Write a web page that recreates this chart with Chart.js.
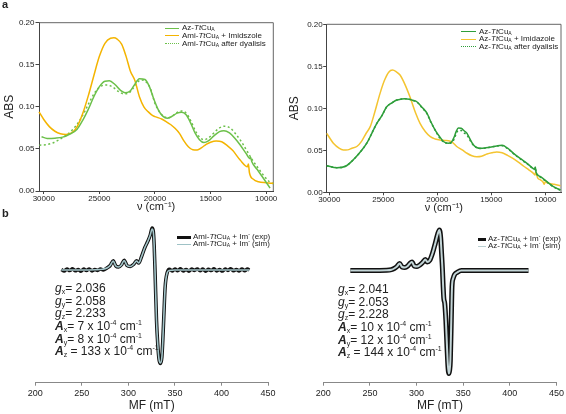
<!DOCTYPE html>
<html><head><meta charset="utf-8">
<script src="https://cdn.jsdelivr.net/npm/chart.js@4.4.1/dist/chart.umd.min.js"></script>
<style>
html,body{margin:0;padding:0;background:#fff;}
body{width:566px;height:414px;position:relative;overflow:hidden;font-family:"Liberation Sans",Arial,Helvetica,sans-serif;color:#222;}
canvas{position:absolute;}
.t{position:absolute;white-space:nowrap;}
.leg{font-size:8px;line-height:10px;height:10px;}
.leg sub{font-size:5px;vertical-align:-1px;line-height:0;}
.leg sup{font-size:5px;vertical-align:3px;line-height:0;}
.ln{position:absolute;height:0;}
.pl{font-weight:bold;font-size:11px;}
.gv{font-size:12px;line-height:12.7px;}
.gv div{height:12.7px;}
.gv sub{font-size:7px;vertical-align:-2px;line-height:0;}
.gv sup{font-size:7px;vertical-align:5px;line-height:0;}
</style></head><body>
<canvas id="c1" width="283" height="216" style="left:0;top:0;width:283px;height:216px"></canvas>
<canvas id="c2" width="283" height="216" style="left:283px;top:0;width:283px;height:216px"></canvas>
<canvas id="c3" width="283" height="198" style="left:0;top:216px;width:283px;height:198px"></canvas>
<canvas id="c4" width="283" height="198" style="left:283px;top:216px;width:283px;height:198px"></canvas>

<div class="t pl" style="left:2px;top:-2px">a</div>
<div class="t pl" style="left:2px;top:207px">b</div>

<!-- legend top-left -->
<div class="ln" style="left:165px;top:27.5px;width:14px;border-top:1.5px solid #6cc04a"></div>
<div class="ln" style="left:165px;top:35.2px;width:14px;border-top:1.5px solid #f4b400"></div>
<div class="ln" style="left:165px;top:43px;width:14px;border-top:1.5px dotted #6cc04a"></div>
<div class="t leg" style="left:182px;top:23px">Az-<i>Tt</i>Cu<sub>A</sub></div>
<div class="t leg" style="left:182px;top:30.7px">Ami-<i>Tt</i>Cu<sub>A</sub> + Imidszole</div>
<div class="t leg" style="left:182px;top:38.7px">Ami-<i>Tt</i>Cu<sub>A</sub> after dyalisis</div>

<!-- legend top-right -->
<div class="ln" style="left:461px;top:31px;width:15px;border-top:1.5px solid #2e9e3a"></div>
<div class="ln" style="left:461px;top:38.5px;width:15px;border-top:1.5px solid #f4c430"></div>
<div class="ln" style="left:461px;top:46px;width:15px;border-top:1.5px dotted #2e9e3a"></div>
<div class="t leg" style="left:479px;top:26.5px">Az-<i>Tt</i>Cu<sub>A</sub></div>
<div class="t leg" style="left:479px;top:34px">Az-<i>Tt</i>Cu<sub>A</sub> + Imidazole</div>
<div class="t leg" style="left:479px;top:41.7px">Az-<i>Tt</i>Cu<sub>A</sub> after dyalisis</div>

<!-- legend bottom-left -->
<div class="ln" style="left:177px;top:235.5px;width:14px;border-top:3px solid #111"></div>
<div class="ln" style="left:177px;top:243.5px;width:14px;border-top:1px solid #9fc2c6"></div>
<div class="t leg" style="left:193px;top:232px">Ami-<i>Tt</i>Cu<sub>A</sub> + Im<sup>-</sup> (exp)</div>
<div class="t leg" style="left:193px;top:239px">Ami-<i>Tt</i>Cu<sub>A</sub> + Im<sup>-</sup> (sim)</div>

<!-- legend bottom-right -->
<div class="ln" style="left:478px;top:237.5px;width:8px;border-top:3px solid #111"></div>
<div class="ln" style="left:478px;top:245.5px;width:8px;border-top:1px solid #b9cfd1"></div>
<div class="t leg" style="left:488px;top:234px">Az-<i>Tt</i>Cu<sub>A</sub> + Im<sup>-</sup> (exp)</div>
<div class="t leg" style="left:488px;top:240.7px">Az-<i>Tt</i>Cu<sub>A</sub> + Im<sup>-</sup> (sim)</div>

<!-- parameters -->
<div class="t gv" style="left:55px;top:282px">
<div><i>g</i><sub>x</sub>= 2.036</div>
<div><i>g</i><sub>y</sub>= 2.058</div>
<div><i>g</i><sub>z</sub>= 2.233</div>
<div><b><i>A</i></b><sub>x</sub>= 7 x 10<sup>-4</sup> cm<sup>-1</sup></div>
<div><b><i>A</i></b><sub>y</sub>= 8 x 10<sup>-4</sup> cm<sup>-1</sup></div>
<div><b><i>A</i></b><sub>z</sub> = 133 x 10<sup>-4</sup> cm<sup>-1</sup></div>
</div>
<div class="t gv" style="left:338px;top:283px">
<div><i>g</i><sub>x</sub>= 2.041</div>
<div><i>g</i><sub>y</sub>= 2.053</div>
<div><i>g</i><sub>z</sub>= 2.228</div>
<div><b><i>A</i></b><sub>x</sub>= 10 x 10<sup>-4</sup> cm<sup>-1</sup></div>
<div><b><i>A</i></b><sub>y</sub>= 12 x 10<sup>-4</sup> cm<sup>-1</sup></div>
<div><b><i>A</i></b><sub>z</sub> = 144 x 10<sup>-4</sup> cm<sup>-1</sup></div>
</div>

<script>
// ---------- Panel a, left : Ami-TtCuA ----------
const tlAzNu  = [30200,29700,29000,28300,27600,27000,26500,26000,25500,25000,24500,24100,23600,23100,22700,22300,21900,21400,20900,20500,20100,19700,19300,18900,18500,18000,17600,17200,16800,16400,16000,15600,15200,14700,14200,13800,13300,12800,12300,11800,11450,11400,11300,10800,10300,9650];
const tlAzAbs = [0.0645,0.0625,0.0628,0.064,0.068,0.0735,0.084,0.097,0.112,0.124,0.1305,0.131,0.1265,0.1195,0.1168,0.118,0.125,0.1335,0.1325,0.124,0.109,0.0965,0.089,0.0865,0.0885,0.0925,0.0935,0.0905,0.081,0.069,0.061,0.0575,0.0595,0.0655,0.0705,0.0717,0.069,0.0625,0.054,0.0445,0.0385,0.040,0.035,0.0255,0.016,0.0035];

const tlImNu  = [30430,30000,29500,29000,28500,28000,27500,27000,26500,26000,25500,25000,24500,24000,23700,23400,23000,22600,22200,21800,21400,21000,20600,20200,19800,19400,19000,18600,18200,17800,17400,17000,16600,16200,15800,15400,15000,14500,14000,13500,13000,12340,11685,11600,11505,11145,10695,10000,9360];
const tlImAbs = [0.094,0.085,0.0765,0.071,0.068,0.0672,0.069,0.0765,0.092,0.113,0.137,0.160,0.1755,0.1815,0.182,0.1805,0.1745,0.160,0.142,0.131,0.112,0.100,0.094,0.0895,0.0875,0.0855,0.0825,0.079,0.0745,0.0685,0.0595,0.0525,0.049,0.0487,0.0515,0.0555,0.058,0.0594,0.0585,0.054,0.048,0.0368,0.0289,0.032,0.0217,0.0139,0.011,0.0098,0.0091];

const tlDyNu  = [30400,29800,29200,28600,28000,27400,26800,26300,25800,25300,24800,24300,23800,23300,22800,22400,22000,21600,21200,20800,20400,20000,19600,19200,18800,18400,18000,17600,17200,16800,16400,16000,15600,15200,14700,14200,13700,13200,12700,12200,11700,11200,10700,10200,9700,9350];
const tlDyAbs = [0.0545,0.055,0.057,0.061,0.066,0.073,0.083,0.095,0.108,0.119,0.125,0.126,0.1235,0.1185,0.1155,0.116,0.1215,0.129,0.132,0.1295,0.1215,0.104,0.094,0.0885,0.087,0.0895,0.0935,0.095,0.0925,0.084,0.0725,0.064,0.061,0.063,0.069,0.075,0.077,0.0745,0.067,0.058,0.047,0.036,0.027,0.018,0.011,0.0085];

// ---------- Panel a, right : Az-TtCuA ----------
const trAzNu  = [30240,29300,28500,27800,27000,26500,26000,25600,25100,24700,24200,23750,23300,23000,22600,22200,21900,21400,20950,20600,20200,19800,19400,19000,18700,18450,18250,18050,17800,17500,17250,16900,16650,16300,16000,15500,15000,14500,14000,13500,12950,12300,11700,11200,11000,10930,10850,10450,9850,9250,8600];
const trAzAbs = [0.0317,0.0293,0.031,0.0384,0.050,0.059,0.072,0.082,0.092,0.1015,0.1065,0.1098,0.111,0.1114,0.1108,0.1092,0.1078,0.101,0.094,0.084,0.0741,0.0665,0.0602,0.0583,0.0595,0.0655,0.0725,0.0765,0.0762,0.073,0.0702,0.0615,0.0563,0.053,0.0524,0.053,0.054,0.0552,0.0559,0.0525,0.0464,0.040,0.0345,0.029,0.0275,0.030,0.0235,0.0186,0.0126,0.0067,0.0027];

const trImNu  = [30240,29900,29600,29100,28700,28300,27900,27450,27000,26600,26200,25800,25300,24900,24500,24150,23800,23450,23000,22500,22000,21600,21100,20650,20200,19750,19300,18950,18600,18200,17700,17250,16800,16350,15900,15400,14950,14500,14000,13500,13000,12500,12000,11500,11100,10950,10900,10700,10450,10200,10100,10000,9800,9200,8600];
const trImAbs = [0.0702,0.0635,0.058,0.0525,0.0503,0.0505,0.0525,0.0545,0.061,0.070,0.0785,0.095,0.1178,0.133,0.143,0.1455,0.1435,0.1396,0.1285,0.1125,0.094,0.082,0.072,0.0662,0.0635,0.0622,0.0618,0.0614,0.0595,0.0545,0.0505,0.0465,0.0435,0.0424,0.043,0.0455,0.047,0.048,0.047,0.044,0.0405,0.036,0.031,0.0265,0.0225,0.0205,0.024,0.017,0.0148,0.012,0.0095,0.0125,0.0112,0.0095,0.0079];

const trDyNu  = [30240,29300,28500,27800,27000,26500,26000,25600,25100,24700,24200,23750,23300,23000,22600,22200,21900,21400,20950,20600,20200,19800,19400,19000,18700,18450,18250,18050,17800,17500,17250,16900,16650,16300,16000,15500,15000,14500,14000,13500,12950,12300,11700,11200,11000,10930,10850,10450,9850,9250,8600];
const trDyAbs = [0.0317,0.0293,0.031,0.0384,0.050,0.059,0.072,0.082,0.092,0.1015,0.1065,0.1098,0.111,0.1114,0.1108,0.1092,0.1075,0.1005,0.0935,0.0835,0.074,0.065,0.0598,0.0583,0.059,0.063,0.070,0.0735,0.0735,0.0705,0.068,0.0605,0.056,0.0528,0.052,0.0528,0.054,0.055,0.0555,0.052,0.046,0.0395,0.034,0.0288,0.0272,0.0295,0.0232,0.018,0.0122,0.0065,0.0025];

// ---------- Panel b : EPR (arbitrary units, baseline = 0) ----------
const eprLmfExp = [228,231,234,237,240,243,246,249,252,255,258,261,264,267,270,273,277,280.5,283.7,286.5,289.5,292.5,295.5,298.5,302,305.5,308.8,311.2,314,317.5,321,323.5,325.5,326.8,327.7,328.6,330.2,331.6,333,334.5,336,337,338,339.5,341.6,344,347,350,353,356,359,362,365,368,371,374,377,380,383,386,389,392,395,398,401,404,407,410,413,416,419,422,425,428,430];
const eprLexp   = [0.005,-0.01,0.01,-0.006,0.012,-0.008,0.004,-0.012,0.009,-0.005,0.011,-0.009,0.006,-0.004,0.01,0.0,0.02,0.045,0.092,0.04,0.03,0.05,0.097,0.045,0.035,0.055,0.092,0.07,0.13,0.22,0.29,0.35,0.42,0.385,0.25,0.0,-0.5,-0.75,-0.9,-0.935,-0.87,-0.7,-0.48,-0.17,-0.03,0.008,-0.01,0.01,-0.007,0.012,-0.01,0.006,-0.012,0.009,-0.004,0.011,-0.008,0.01,-0.012,0.007,-0.006,0.012,-0.009,0.005,-0.011,0.01,-0.005,0.013,-0.008,0.006,-0.01,0.009,-0.007,0.01,0.0];
const eprLmfSim = [228,250,265,272,277,280.5,283.7,286.5,289.5,292.5,295.5,298.5,302,305.5,308.8,311.2,314,317.5,321,323.5,325.5,326.8,327.7,328.6,330.2,331.6,333,334.5,336,337,338,339.5,341.6,344,350,380,430];
const eprLsim   = [0,0,0.003,0.008,0.02,0.045,0.09,0.04,0.03,0.05,0.095,0.045,0.035,0.055,0.09,0.07,0.13,0.22,0.29,0.35,0.41,0.38,0.25,0.0,-0.5,-0.75,-0.9,-0.93,-0.87,-0.7,-0.48,-0.17,-0.03,-0.005,0,0,0];

const eprRmf  = [229,250,268,273,276,279,281.8,284.5,287.5,290.5,292.8,295.1,297.5,300.5,303.5,306.5,309.4,311.5,314,317,320,322.5,324.5,325.8,326.8,327.7,328.5,329.2,330.2,331.4,332.7,333.6,334.5,335.4,336.2,337.2,338,339.2,340.8,343.4,348,380,420];
const eprRexp = [0,0,0.002,0.008,0.02,0.04,0.07,0.035,0.03,0.045,0.07,0.085,0.045,0.04,0.055,0.08,0.11,0.085,0.1,0.17,0.27,0.36,0.405,0.33,0.17,0.02,-0.16,-0.28,-0.33,-0.5,-0.78,-0.95,-1.03,-1.0,-0.9,-0.5,-0.16,-0.08,-0.04,-0.02,0,0,0];
const eprRsim = [0,0,0.002,0.008,0.02,0.04,0.07,0.035,0.03,0.045,0.07,0.085,0.045,0.04,0.055,0.08,0.11,0.085,0.1,0.17,0.27,0.36,0.405,0.33,0.17,0.02,-0.16,-0.28,-0.33,-0.5,-0.78,-0.95,-1.03,-1.0,-0.9,-0.5,-0.16,-0.08,-0.04,-0.02,0,0,0];

// ---------- tick labels ----------
const absTicks = [0, 0.05, 0.10, 0.15, 0.20];
const nuTicks  = [30000, 25000, 20000, 15000, 10000];
const mfTicks  = [200, 250, 300, 350, 400, 450];

const FONT = "'Liberation Sans', Arial, Helvetica, sans-serif";
Chart.defaults.font.family = FONT;
Chart.defaults.color = '#222';
Chart.defaults.animation = false;
Chart.defaults.plugins.legend.display = false;
Chart.defaults.plugins.tooltip.enabled = false;
Chart.defaults.elements.point.radius = 0;

const pts = (xs, ys) => xs.map((x, i) => ({x, y: ys[i]}));
const setTicks = arr => (s => { s.ticks = arr.map(v => ({value: v})); });

const framePlugin = {
  id: 'frame',
  beforeDatasetsDraw(chart, args, opts) {
    if (!opts || !opts.show) return;
    const {ctx, chartArea: a} = chart;
    ctx.save();
    ctx.strokeStyle = opts.color || '#555';
    ctx.lineWidth = 1;
    ctx.beginPath();
    ctx.moveTo(a.left, a.top); ctx.lineTo(a.right, a.top); ctx.lineTo(a.right, a.bottom);
    ctx.stroke();
    ctx.restore();
  }
};
Chart.register(framePlugin);

function line(data, color, width, dash) {
  return {data, borderColor: color, borderWidth: width, borderDash: dash || [], fill: false,
          cubicInterpolationMode: 'monotone', pointRadius: 0, clip: false};
}

function uvChart(id, datasets, o) {
  return new Chart(document.getElementById(id), {
    type: 'line',
    data: {datasets},
    options: {
      responsive: false, maintainAspectRatio: false, parsing: false,
      layout: {padding: {left: 0, top: o.top, right: o.right, bottom: 0}},
      plugins: {frame: {show: true, color: '#666'}},
      scales: {
        x: {
          type: 'linear', reverse: true, min: o.xmin, max: o.xmax,
          afterBuildTicks: setTicks(nuTicks),
          afterFit: s => { s.height = o.xh; },
          ticks: {font: {size: 8}, color: '#222', padding: 0, maxRotation: 0, autoSkip: false,
                  callback: v => String(v)},
          grid: {drawOnChartArea: false, drawTicks: true, tickLength: 3, color: '#444'},
          border: {display: true, color: '#444', width: 1},
          title: {display: true, text: 'ν (cm⁻¹)', font: {size: 11}, color: '#222',
                  padding: {top: 0, bottom: o.xtp}}
        },
        y: {
          type: 'linear', min: 0, max: 0.2,
          afterBuildTicks: setTicks(absTicks),
          afterFit: s => { s.width = o.yw; },
          ticks: {font: {size: 8}, color: '#222', padding: o.ytp, callback: v => v.toFixed(2)},
          grid: {drawOnChartArea: false, drawTicks: true, tickLength: 3.5, color: '#444'},
          border: {display: true, color: '#444', width: 1},
          title: {display: true, text: 'ABS', font: {size: 12}, color: '#222',
                  padding: {top: o.ytitle, bottom: 0}}
        }
      }
    }
  });
}

function eprChart(id, datasets, o) {
  return new Chart(document.getElementById(id), {
    type: 'line',
    data: {datasets},
    options: {
      responsive: false, maintainAspectRatio: false, parsing: false,
      layout: {padding: {left: o.left, top: 4, right: o.right, bottom: 0}},
      scales: {
        x: {
          type: 'linear', min: 200, max: 450,
          afterBuildTicks: setTicks(mfTicks),
          afterFit: s => { s.height = 31.3; },
          ticks: {font: {size: 9}, color: '#222', padding: 2, maxRotation: 0, autoSkip: false},
          grid: {drawOnChartArea: false, drawTicks: true, tickLength: 3, color: '#888'},
          border: {display: true, color: '#888', width: 1},
          title: {display: true, text: 'MF (mT)', font: {size: 12}, color: '#222',
                  padding: {top: 0, bottom: 0.8}}
        },
        y: {type: 'linear', display: false, min: o.ymin, max: o.ymax}
      }
    }
  });
}

// dataset index 0 is drawn on top
uvChart('c1', [
  line(pts(tlAzNu, tlAzAbs), '#6cc04a', 1.5),
  line(pts(tlImNu, tlImAbs), '#f4b400', 1.5),
  line(pts(tlDyNu, tlDyAbs), '#6cc04a', 1.5, [2, 2.5])
], {top: 22.7, right: 9.7, xmin: 9360, xmax: 30430, xh: 25, xtp: 2.4, yw: 39, ytp: 1, ytitle: 2.3});

uvChart('c2', [
  line(pts(trAzNu, trAzAbs), '#2e9e3a', 1.5),
  line(pts(trDyNu, trDyAbs), '#2e9e3a', 1.5, [2, 2.5]),
  line(pts(trImNu, trImAbs), '#f4c430', 1.5)
], {top: 24.3, right: 5, xmin: 8550, xmax: 30240, xh: 23.7, xtp: 1.4, yw: 43.7, ytp: 0.5, ytitle: 4.8});

eprChart('c3', [
  line(pts(eprLmfSim, eprLsim), '#a3c5c9', 1.6),
  line(pts(eprLmfExp, eprLexp), '#111', 3.5)
], {left: 35.3, right: 15, ymin: -1.127, ymax: 0.5});

eprChart('c4', [
  line(pts(eprRmf, eprRsim), '#c3d5d7', 2),
  line(pts(eprRmf, eprRexp), '#111', 5)
], {left: 40.3, right: 9.5, ymin: -1.122, ymax: 0.505});
</script>
</body></html>
